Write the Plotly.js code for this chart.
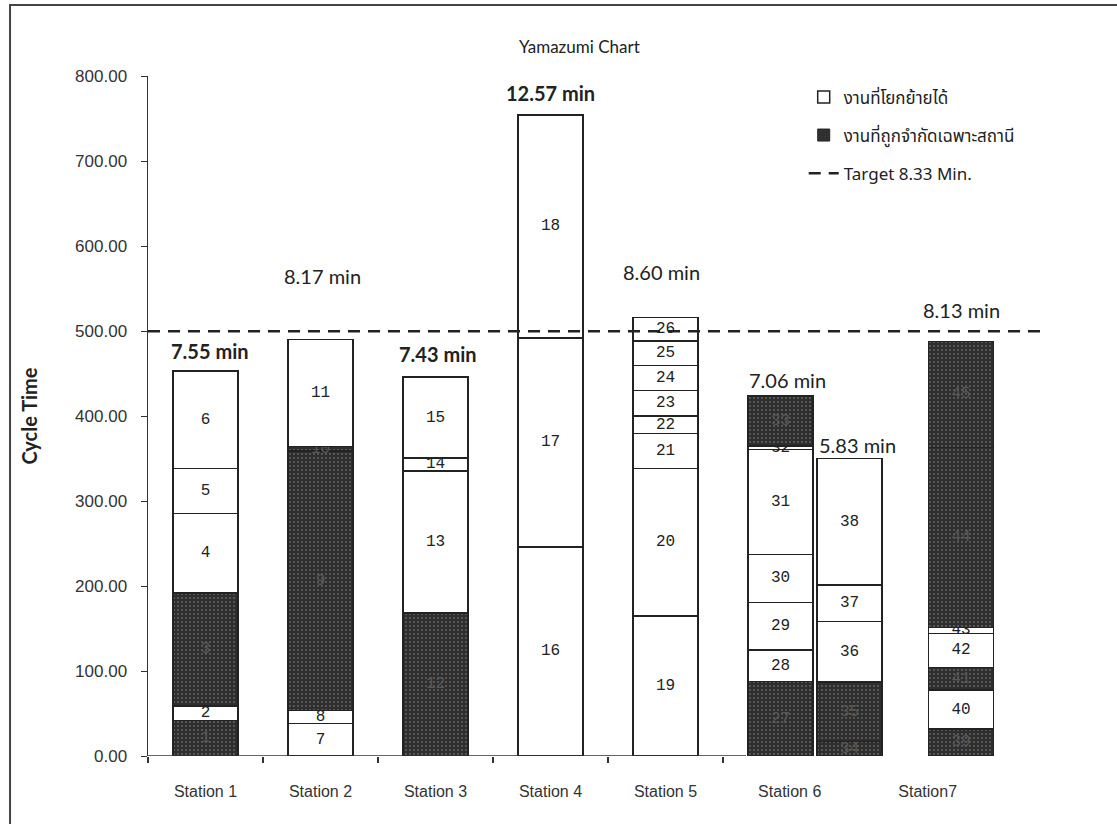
<!DOCTYPE html>
<html>
<head>
<meta charset="utf-8">
<script src="https://cdn.plot.ly/plotly-3.0.1.min.js"></script>
<style>
  html, body { margin: 0; padding: 0; background: #fff; }
  #chart { width: 1117px; height: 824px; }
</style>
</head>
<body>
<div id="chart"></div>
<script>
// ---- data -------------------------------------------------------------
// one entry per stacked bar (station 6 is split over two bars)
const barSlots = [1, 2, 3, 4, 5, 6, 6.6, 7.57];

// task numbers inside each bar, bottom to top
const taskIds = [
  [1, 2, 3, 4, 5, 6],
  [7, 8, 9, 10, 11],
  [12, 13, 14, 15],
  [16, 17, 18],
  [19, 20, 21, 22, 23, 24, 25, 26],
  [27, 28, 29, 30, 31, 32, 33],
  [34, 35, 36, 37, 38],
  [39, 40, 41, 42, 43, 44, 45]
];

// task times in seconds, bottom to top
const taskTimes = [
  [41.5, 17.5, 133, 93.5, 52.5, 115],
  [38.5, 15, 305.5, 5, 126.2],
  [168.5, 167, 15, 95.3],
  [246, 246, 262.2],
  [165, 173.4, 41.2, 20.4, 29.8, 29.4, 29, 27.8],
  [87.4, 37.3, 56.1, 56.5, 123.5, 4.2, 58.6],
  [17, 70, 71, 43.2, 148.6],
  [31.8, 45.8, 26.7, 40, 7.1, 211.4, 125]
];

// 1 = task tied to its station, 0 = task that can be moved
const taskFixed = [
  [1, 0, 1, 0, 0, 0],
  [0, 0, 1, 1, 0],
  [1, 0, 0, 0],
  [0, 0, 0],
  [0, 0, 0, 0, 0, 0, 0, 0],
  [1, 0, 0, 0, 0, 0, 1],
  [1, 1, 0, 0, 0],
  [1, 0, 1, 0, 0, 1, 1]
];

const stationNames = ['Station 1', 'Station 2', 'Station 3', 'Station 4', 'Station 5', 'Station 6', 'Station7'];
const stationLabelAt = [1, 2, 3, 4, 5, 6.08, 7.28];
const yTicks = [0, 100, 200, 300, 400, 500, 600, 700, 800];
const targetMin = 8.33;
const chartTitle = 'Yamazumi Chart';
const yTitle = 'Cycle Time';
const legendNames = ['งานที่โยกย้ายได้', 'งานที่ถูกจำกัดเฉพาะสถานี', 'Target 8.33 Min.'];

// ---- styles -----------------------------------------------------------
const INK = '#222';
const DARK = '#2e2e2e';
const SPECK = '#5e5e5e';
const THAI = "'Noto Sans Thai', 'Noto Sans Thai UI', Loma, Garuda, Waree, 'Tlwg Typo', Sarabun, 'Noto Sans', sans-serif";
const BAR_W = 0.565;
// vertical lift (px) and horizontal nudge (px) of each total label
const labelLift = [20, 63, 23, 22, 45, 16, 14, 31];
const labelNudge = [4, 2, 2, 0, -4, 7, 8, 0];
const labelBold = [true, false, true, true, false, false, false, false];

// ---- stacked layers ---------------------------------------------------
const layers = Math.max(...taskTimes.map(t => t.length));
const traces = [];
for (let k = 0; k < layers; k++) {
  const x = [], y = [], text = [], fill = [], txtCol = [], pat = [];
  taskTimes.forEach((times, b) => {
    if (k < times.length) {
      const fixed = taskFixed[b][k] === 1;
      x.push(barSlots[b]);
      y.push(times[k]);
      text.push(String(taskIds[b][k]));
      fill.push(fixed ? DARK : '#ffffff');
      txtCol.push(fixed ? '#585858' : INK);
      pat.push(fixed ? '.' : '');
    }
  });
  traces.push({
    type: 'bar', x, y, text,
    width: BAR_W,
    showlegend: false,
    hoverinfo: 'skip',
    textposition: 'inside',
    insidetextanchor: 'middle',
    constraintext: 'none',
    textangle: 0,
    textfont: { family: "'Liberation Mono', monospace", size: 16, color: txtCol },
    marker: {
      color: fill,
      line: { color: INK, width: 1.5 },
      pattern: { shape: pat, fgcolor: SPECK, size: 4, solidity: 0.1, fillmode: 'overlay' }
    }
  });
}

// legend entries for the two task kinds
traces.push({
  type: 'bar', x: [null], y: [null], name: legendNames[0], legendgroup: 'a',
  marker: { color: '#ffffff', line: { color: INK, width: 1.5 } }
});
traces.push({
  type: 'bar', x: [null], y: [null], name: legendNames[1], legendgroup: 'b',
  marker: { color: DARK, line: { color: INK, width: 1 },
            pattern: { shape: '.', fgcolor: SPECK, size: 4, solidity: 0.1, fillmode: 'overlay' } }
});

// ---- station totals as minutes ---------------------------------------
const totals = taskTimes.map(t => t.reduce((s, v) => s + v, 0));
const annotations = totals.map((tot, b) => ({
  x: barSlots[b], y: tot, xref: 'x', yref: 'y',
  text: (tot / 60).toFixed(2) + ' min',
  showarrow: false, yanchor: 'middle',
  yshift: labelLift[b], xshift: labelNudge[b],
  font: { family: 'Lato, sans-serif', size: 20, color: INK, weight: labelBold[b] ? 'bold' : 'normal' }
}));
annotations.push({
  text: chartTitle, xref: 'paper', yref: 'paper', x: 0.4816, y: 1.044,
  showarrow: false, xanchor: 'center', yanchor: 'middle',
  font: { family: 'Lato, sans-serif', size: 17, color: INK }
});

const minorTicks = stationNames.slice(0, 6).map((_, i) => i + 0.5);

const layout = {
  width: 1117, height: 824, autosize: false,
  margin: { l: 148, r: 72, t: 76, b: 68 },
  paper_bgcolor: '#fff', plot_bgcolor: '#fff',
  barmode: 'stack',
  showlegend: true,
  legend: {
    x: 0.731, y: 0.995, xanchor: 'left', yanchor: 'top',
    bgcolor: 'rgba(0,0,0,0)', traceorder: 'grouped', tracegroupgap: 13,
    font: { family: THAI, size: 17, color: INK }
  },
  xaxis: {
    range: [0.5, 8.3], showgrid: false, zeroline: false, showline: false,
    tickmode: 'array', tickvals: stationLabelAt, ticktext: stationNames, ticks: '',
    ticklabelstandoff: 24,
    tickfont: { family: "'Liberation Sans', sans-serif", size: 16, color: '#333' },
    minor: { tickmode: 'array', tickvals: minorTicks, ticks: 'outside', ticklen: 6, tickcolor: '#333', tickwidth: 1.2, showgrid: false }
  },
  yaxis: {
    range: [0, 800], tickmode: 'array', tickvals: yTicks, tickformat: '.2f',
    ticks: 'outside', ticklen: 6, tickcolor: '#333',
    ticklabelstandoff: 10,
    showline: true, linecolor: '#333', linewidth: 1.5,
    showgrid: false, zeroline: false,
    tickfont: { family: "'Liberation Sans', sans-serif", size: 17, color: '#333' },
    title: { text: yTitle, standoff: 32, font: { family: 'Lato, sans-serif', size: 20, color: INK, weight: 'bold' } }
  },
  annotations,
  shapes: [
    // x baseline under the first stations
    { type: 'line', xref: 'x', yref: 'y', x0: 0.5, x1: 5.7, y0: 0, y1: 0, line: { color: '#333', width: 1.5 } },
    // target cycle time
    { type: 'line', xref: 'paper', yref: 'y', x0: 0, x1: 1, y0: targetMin * 60, y1: targetMin * 60,
      line: { color: INK, width: 2.5, dash: '12px,8px' },
      showlegend: true, name: legendNames[2], legendgroup: 'c' },
    // outer frame
    { type: 'rect', xref: 'paper', yref: 'paper', x0: -0.1538, x1: 1.3, y0: -0.3, y1: 1.1044,
      line: { color: '#444', width: 2 }, fillcolor: 'rgba(0,0,0,0)' }
  ]
};

Plotly.newPlot('chart', traces, layout, { displayModeBar: false, staticPlot: true });
</script>
</body>
</html>
